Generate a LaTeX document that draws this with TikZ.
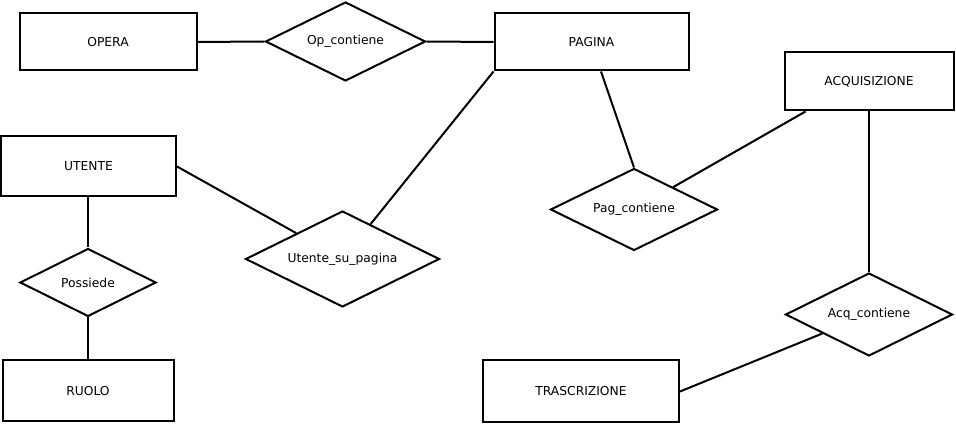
\documentclass[tikz,border=0pt]{standalone}
\usepackage{fontspec}
\setmainfont{DejaVu Sans}
\usetikzlibrary{shapes.geometric}
\begin{document}
\begin{tikzpicture}[x=1pt,y=-1pt,line width=2pt,
	every node/.style={font=\fontsize{12.3}{14}\selectfont},
	entity/.style={draw, rectangle, inner sep=0pt},
	relation/.style={draw, diamond, shape aspect=2, inner sep=0pt}]
	\useasboundingbox (0,0) rectangle (956,427);
	\node [entity, minimum width=177pt, minimum height=57pt] (opera) at (108,42) {OPERA};
	\node [relation, minimum width=160pt, minimum height=79pt] (opcont) at (345.5,41.5) {Op\_contiene};
	\node [entity, minimum width=194pt, minimum height=57pt] (pagina) at (591.5,42) {PAGINA};
	\node [entity, minimum width=169pt, minimum height=58pt] (acq) at (869,81.5) {ACQUISIZIONE};
	\node [entity, minimum width=175pt, minimum height=60pt] (utente) at (88.5,166.5) {UTENTE};
	\node [entity, minimum width=171pt, minimum height=61pt] (ruolo) at (88,391) {RUOLO};
	\node [entity, minimum width=196pt, minimum height=62pt] (trasc) at (581,391.5) {TRASCRIZIONE};
	\node [relation, minimum width=194pt, minimum height=96pt] (usp) at (342.5,259) {Utente\_su\_pagina};
	\node [relation, minimum width=136pt, minimum height=68pt] (possiede) at (88,282.5) {Possiede};
	\node [relation, minimum width=167pt, minimum height=82pt] (pagcont) at (634,209.5) {Pag\_contiene};
	\node [relation, minimum width=167pt, minimum height=83pt] (acqcont) at (869,314.5) {Acq\_contiene};
	\draw (opera.east) -- (opcont.west);
	\draw (opcont.east) -- (pagina.west);
	\draw (utente.east) -- (usp);
	\draw (pagina.south west) -- (usp);
	\draw ([xshift=9.5pt]pagina.south) -- (pagcont.north);
	\draw ([xshift=22pt]acq.south west) -- (pagcont);
	\draw (acq.south) -- (acqcont.north);
	\draw (trasc.east) -- (acqcont);
	\draw ([xshift=-0.5pt]utente.south) -- (possiede.north);
	\draw (possiede.south) -- (ruolo.north);
\end{tikzpicture}
\end{document}
